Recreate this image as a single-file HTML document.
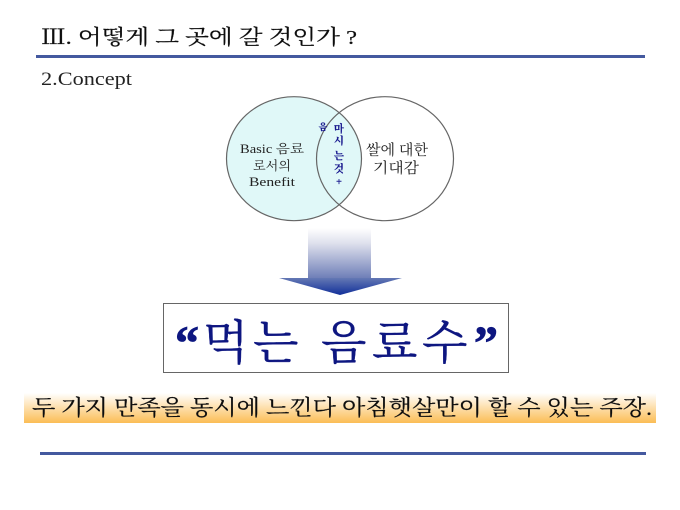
<!DOCTYPE html>
<html lang="ko">
<head>
<meta charset="utf-8">
<style>
html,body{margin:0;padding:0;background:#fff;width:680px;height:510px;overflow:hidden}
svg{display:block}
text{font-family:"Liberation Serif","Noto Serif CJK SC",serif}
</style>
</head>
<body>
<svg width="680" height="510" viewBox="0 0 680 510" xmlns="http://www.w3.org/2000/svg">
<defs>
<linearGradient id="shaft" x1="0" y1="0" x2="0" y2="1">
<stop offset="0" stop-color="#ffffff"/>
<stop offset="0.3" stop-color="#dfe1ed"/>
<stop offset="1" stop-color="#6f7fb8"/>
</linearGradient>
<linearGradient id="head" x1="0" y1="0" x2="0" y2="1">
<stop offset="0" stop-color="#6478b4"/>
<stop offset="1" stop-color="#12309a"/>
</linearGradient>
<linearGradient id="band" x1="0" y1="0" x2="0" y2="1">
<stop offset="0" stop-color="#ffffff"/>
<stop offset="1" stop-color="#fbbd55"/>
</linearGradient>
<filter id="soft" x="-5%" y="-20%" width="110%" height="140%"><feGaussianBlur stdDeviation="0.3"/></filter>
</defs>

<rect x="36" y="55" width="609" height="3" fill="#44599f"/>
<rect x="40" y="452" width="606" height="3" fill="#44599f"/>

<ellipse cx="294" cy="158.7" rx="67.5" ry="62" fill="#e0f8f8" stroke="#666" stroke-width="1.2"/>
<ellipse cx="385" cy="158.7" rx="68.5" ry="62" fill="none" stroke="#666" stroke-width="1.2"/>

<rect x="308" y="228" width="63" height="50" fill="url(#shaft)"/>
<polygon points="279,278 402,278 340,295" fill="url(#head)"/>

<rect x="163.5" y="303.5" width="345" height="69" fill="#fff" stroke="#666" stroke-width="1"/>
<rect x="24" y="393" width="632" height="30" fill="url(#band)"/>

<g filter="url(#soft)">
<text x="41" y="44" font-size="20.5" fill="#111" stroke="#111" stroke-width="0.2" textLength="316" lengthAdjust="spacingAndGlyphs">Ⅲ. 어떻게 그 곳에 갈 것인가 ?</text>
<text x="41" y="85" font-size="19" fill="#222" textLength="91" lengthAdjust="spacingAndGlyphs">2.Concept</text>

<text x="240" y="153" font-size="12.5" fill="#222" textLength="64" lengthAdjust="spacingAndGlyphs">Basic 음료</text>
<text x="272" y="170" font-size="12.5" fill="#222" text-anchor="middle" textLength="38" lengthAdjust="spacingAndGlyphs">로서의</text>
<text x="272" y="186" font-size="12.5" fill="#222" text-anchor="middle" textLength="46" lengthAdjust="spacingAndGlyphs">Benefit</text>

<text x="366" y="155" font-size="14.5" fill="#222" textLength="62" lengthAdjust="spacingAndGlyphs">쌀에 대한</text>
<text x="373" y="173" font-size="14.5" fill="#222" textLength="46" lengthAdjust="spacingAndGlyphs">기대감</text>

<g fill="#14148c" text-anchor="middle" font-weight="bold" stroke="#14148c" stroke-width="0.15">
<text x="323" y="130" font-size="9">음</text>
<text x="339" y="132" font-size="10.5">마</text>
<text x="339" y="144" font-size="10.5">시</text>
<text x="339" y="159" font-size="10.5">는</text>
<text x="339" y="172" font-size="10.5">것</text>
<text x="339" y="185" font-size="10.5">+</text>
</g>

<text y="359" font-size="47" fill="#0a1480" stroke="#0a1480" stroke-width="0.35" x="175 203 253 300 321 372 422 474"><tspan font-weight="bold" font-size="48" stroke-width="0.8">“</tspan>먹는 음료수<tspan font-weight="bold" font-size="48" stroke-width="0.8">”</tspan></text>

<text x="32" y="415" font-size="21.5" fill="#111" stroke="#111" stroke-width="0.2" textLength="620" lengthAdjust="spacingAndGlyphs">두 가지 만족을 동시에 느낀다 아침햇살만이 할 수 있는 주장.</text>
</g>
</svg>
</body>
</html>
